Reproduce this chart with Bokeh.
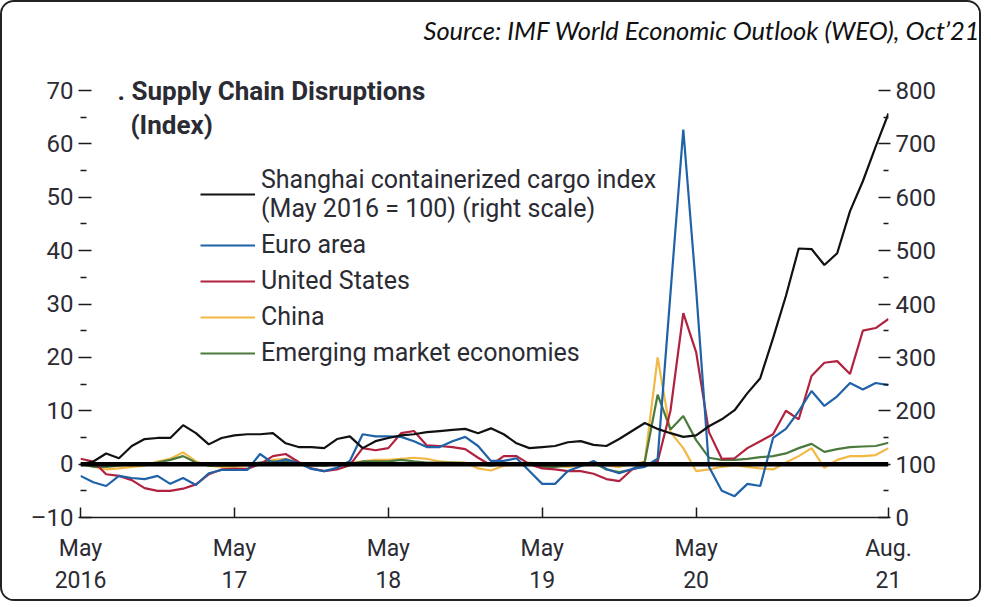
from bokeh.plotting import figure
from bokeh.models import (Range1d, LinearAxis, FixedTicker, Span, Label, Legend,
                          LegendItem, Title)
from bokeh.embed import file_html
from bokeh.resources import INLINE

# ---------------- data (monthly, May 2016 .. Aug 2021) ----------------
month_index = list(range(64))
tick_positions = [0, 12, 24, 36, 48, 63]
tick_labels = ["May\n2016", "May\n17", "May\n18", "May\n19", "May\n20", "Aug.\n21"]
left_ticks = [-10, 0, 10, 20, 30, 40, 50, 60, 70]
left_minor = [-5, 5, 15, 25, 35, 45, 55, 65]
right_ticks = [0, 100, 200, 300, 400, 500, 600, 700, 800]
right_minor = [50, 150, 250, 350, 450, 550, 650, 750]

shanghai = [100, 105, 120, 111, 134, 147, 149, 149, 173, 158,
            137, 149, 154, 156, 156, 158, 139, 132, 132, 130,
            147, 152, 130, 143, 149, 154, 156, 160, 162, 164,
            166, 158, 167, 156, 139, 130, 132, 134, 141, 143,
            136, 134, 147, 162, 177, 166, 158, 151, 154, 171,
            184, 201, 233, 261, 336, 415, 504, 503, 473, 495,
            574, 630, 695, 757]
euro_area = [-2.2, -3.4, -4.1, -2.2, -2.6, -2.8, -2.2, -3.7, -2.6, -3.9,
             -1.7, -1.1, -1.1, -1.1, 1.9, 0.2, 0.9, 0.2, -0.9, -1.3,
             -0.7, 0.6, 5.6, 5.2, 5.2, 5.1, 4.3, 3.2, 3.2, 4.3,
             5.1, 3.4, 0.6, 0.6, 1.1, -1.3, -3.7, -3.7, -1.3, -0.4,
             0.6, -0.9, -1.7, -0.9, -0.5, 1.0, 32.0, 62.7, 32.8, -0.5,
             -5.0, -6.0, -3.7, -4.1, 4.9, 6.6, 9.9, 13.7, 10.9, 12.7,
             15.2, 14.0, 15.2, 14.8]
united_states = [1.0, 0.5, -1.9, -2.2, -3.0, -4.5, -5.0, -5.0, -4.6, -3.8,
                 -1.9, -1.0, -0.9, -0.9, 0.0, 1.5, 1.9, 0.4, -0.8, -1.3,
                 -1.0, -0.2, 3.0, 2.6, 3.0, 5.8, 6.2, 3.5, 3.4, 3.2,
                 2.8, 1.2, -0.2, 1.5, 1.5, 0.0, -0.8, -1.0, -1.3, -1.3,
                 -1.8, -2.8, -3.2, -1.0, -0.3, 0.5, 10.0, 28.3, 21.0, 6.0,
                 1.0, 1.1, 3.0, 4.3, 5.6, 10.0, 8.4, 16.5, 19.0, 19.3,
                 16.9, 25.0, 25.5, 27.2]
china = [0.3, -0.5, -1.0, -0.8, -0.5, -0.3, 0.5, 1.0, 2.2, 0.5,
         -0.3, -0.5, -0.5, -0.3, 0.0, 0.8, 1.0, 0.3, 0.0, -0.3,
         0.0, 0.2, 0.5, 0.8, 0.8, 1.0, 1.2, 1.0, 0.5, 0.3,
         0.3, -0.8, -1.2, -0.3, 0.0, 0.3, 0.0, -0.3, -0.5, -0.3,
         0.0, -0.3, -0.5, 0.0, 0.5, 20.0, 6.0, 3.0, -1.3, -1.0,
         -0.5, -0.2, -0.5, -0.8, -1.0, 0.3, 1.5, 3.0, -0.7, 0.8,
         1.5, 1.5, 1.7, 3.0]
emerging = [0.0, -0.5, -0.5, -0.3, 0.0, 0.0, 0.3, 0.8, 1.5, 0.3,
            -0.3, -0.3, -0.3, 0.0, 0.3, 0.5, 0.5, 0.0, -0.3, -0.3,
            0.0, 0.0, 0.5, 0.5, 0.5, 0.8, 0.5, 0.3, 0.3, 0.3,
            0.2, 0.0, -0.3, 0.0, 0.2, 0.0, -0.5, -0.5, -0.3, 0.0,
            0.3, -1.0, -1.5, -1.0, 0.5, 13.0, 6.5, 9.0, 4.5, 1.2,
            0.8, 0.8, 1.0, 1.3, 1.5, 2.0, 3.0, 3.8, 2.3, 2.8,
            3.2, 3.3, 3.4, 4.0]

series_names = ["Shanghai containerized cargo index\n(May 2016 = 100) (right scale)",
                "Euro area", "United States", "China", "Emerging market economies"]
title_text = ". Supply Chain Disruptions"
subtitle_text = "(Index)"
source_text = "Source: IMF World Economic Outlook (WEO), Oct\u201921"

# ---------------- styling ----------------
FONT = "Roboto"
TXT = "#2b2b33"
C_BLACK, C_BLUE, C_RED, C_YEL, C_GRN = "#111111", "#1f62a8", "#b0223f", "#f2b845", "#4c7a3c"

p = figure(width=981, height=601, output_backend="svg", toolbar_location=None,
           x_range=Range1d(0, 63), y_range=Range1d(-10, 73),
           x_axis_type=None, y_axis_type=None,
           min_border_left=78, min_border_right=95, min_border_top=72, min_border_bottom=86,
           outline_line_color=None, background_fill_color="white", border_fill_color="white",
           styles={"border": "2px solid #222222", "border-radius": "14px", "overflow": "hidden"})
p.extra_y_ranges = {"right": Range1d(0, 830)}

xaxis = LinearAxis(ticker=FixedTicker(ticks=tick_positions),
                   major_label_overrides=dict(zip(tick_positions, tick_labels)),
                   major_tick_in=10, major_tick_out=0, major_tick_line_width=1.5,
                   major_tick_line_color="#1a1a1a",
                   axis_line_color="#1a1a1a", axis_line_width=1.5,
                   minor_tick_line_color=None, major_label_standoff=17,
                   major_label_text_font=FONT, major_label_text_font_size="23px",
                   major_label_text_color=TXT, major_label_text_line_height=1.2)
p.add_layout(xaxis, "below")

lyaxis = LinearAxis(ticker=FixedTicker(ticks=left_ticks, minor_ticks=left_minor),
                    major_label_overrides={-10: "\u201310"},
                    axis_line_color=None, major_tick_in=11, major_tick_out=2,
                    minor_tick_in=6, minor_tick_out=0,
                    major_tick_line_color="#1a1a1a", minor_tick_line_color="#1a1a1a",
                    major_tick_line_width=1.5, minor_tick_line_width=1.5,
                    major_label_standoff=5, major_label_text_font=FONT,
                    major_label_text_font_size="24px", major_label_text_color=TXT)
p.add_layout(lyaxis, "left")

ryaxis = LinearAxis(y_range_name="right",
                    ticker=FixedTicker(ticks=right_ticks, minor_ticks=right_minor),
                    axis_line_color=None, major_tick_in=10, major_tick_out=2,
                    minor_tick_in=5, minor_tick_out=0,
                    major_tick_line_color="#1a1a1a", minor_tick_line_color="#1a1a1a",
                    major_tick_line_width=1.5, minor_tick_line_width=1.5,
                    major_label_standoff=5, major_label_text_font=FONT,
                    major_label_text_font_size="24px", major_label_text_color=TXT)
p.add_layout(ryaxis, "right")

r_cn = p.line(month_index, china, line_color=C_YEL, line_width=2.2)
r_em = p.line(month_index, emerging, line_color=C_GRN, line_width=2.2)
r_us = p.line(month_index, united_states, line_color=C_RED, line_width=2.2)
r_ea = p.line(month_index, euro_area, line_color=C_BLUE, line_width=2.2)
p.add_layout(Span(location=0, dimension="width", line_color="black", line_width=4.5))
r_sh = p.line(month_index, shanghai, y_range_name="right", line_color=C_BLACK, line_width=2.2)

legend = Legend(items=[LegendItem(label=series_names[0], renderers=[r_sh]),
                       LegendItem(label=series_names[1], renderers=[r_ea]),
                       LegendItem(label=series_names[2], renderers=[r_us]),
                       LegendItem(label=series_names[3], renderers=[r_cn]),
                       LegendItem(label=series_names[4], renderers=[r_em])],
                location=(120, 150), glyph_width=55, glyph_height=20, label_standoff=6,
                padding=0, margin=0, spacing=7, border_line_color=None,
                background_fill_alpha=0, label_text_font=FONT, label_text_font_size="25px",
                label_text_color=TXT, label_height=29)
p.add_layout(legend)

p.add_layout(Label(x=2.885, y=70, text=title_text, text_font=FONT, text_font_style="bold",
                   text_font_size="26px", text_baseline="middle", text_color=TXT))
p.add_layout(Label(x=3.9, y=63.63, text=subtitle_text, text_font=FONT, text_font_style="bold",
                   text_font_size="26px", text_baseline="middle", text_color=TXT))

# trailing newline leaves an empty line under the source note, lifting it to the top
src = Title(text=source_text + "\n", align="left", vertical_align="bottom", offset=343,
            standoff=0, text_font="Lato", text_font_style="italic", text_font_size="25.5px",
            text_color="#111111")
p.add_layout(src, "above")

open("out.html", "w").write(file_html(p, INLINE))
